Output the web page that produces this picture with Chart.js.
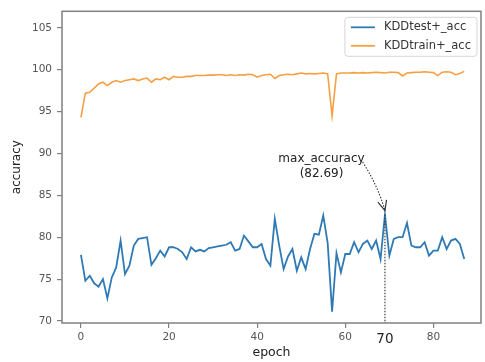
<!DOCTYPE html>
<html>
<head>
<meta charset="utf-8">
<script src="https://cdn.jsdelivr.net/npm/chart.js@4.4.1/dist/chart.umd.min.js"></script>
<style>
  html, body { margin: 0; padding: 0; background: #fff; }
  canvas { display: block; }
</style>
</head>
<body>
<canvas id="chart" width="485" height="362"></canvas>
<script>
const epochs = [
   0,  1,  2,  3,  4,  5,  6,  7,  8,  9, 10, 11, 12, 13, 14, 15, 16, 17, 18, 19,
  20, 21, 22, 23, 24, 25, 26, 27, 28, 29, 30, 31, 32, 33, 34, 35, 36, 37, 38, 39,
  40, 41, 42, 43, 44, 45, 46, 47, 48, 49, 50, 51, 52, 53, 54, 55, 56, 57, 58, 59,
  60, 61, 62, 63, 64, 65, 66, 67, 68, 69, 70, 71, 72, 73, 74, 75, 76, 77, 78, 79,
  80, 81, 82, 83, 84, 85, 86, 87
];

const testAcc = [
  77.9, 74.8, 75.4, 74.5, 74.1, 75.0, 72.7, 75.2, 76.4, 79.6,
  75.6, 76.6, 79.0, 79.8, 79.9, 80.0, 76.7, 77.5, 78.4, 77.7,
  78.8, 78.8, 78.6, 78.2, 77.4, 78.8, 78.3, 78.5, 78.3, 78.7,
  78.8, 78.9, 79.0, 79.1, 79.4, 78.4, 78.6, 80.2, 79.5, 78.8,
  78.8, 79.2, 77.4, 76.6, 82.2, 79.0, 76.2, 77.7, 78.6, 76.0,
  77.6, 76.2, 78.6, 80.4, 80.3, 82.6, 79.3, 71.1, 78.1, 75.8,
  78.0, 78.0, 79.4, 78.2, 79.2, 79.6, 78.6, 79.6, 77.4, 82.69,
  77.8, 79.8, 80.0, 80.0, 81.7, 79.0, 78.8, 78.8, 79.4, 77.8,
  78.4, 78.4, 80.0, 78.6, 79.6, 79.8, 79.2, 77.4
];

const trainAcc = [
  94.3, 97.2, 97.3, 97.8, 98.3, 98.5, 98.1, 98.5, 98.7, 98.5,
  98.7, 98.8, 98.9, 98.7, 98.9, 99.0, 98.5, 98.9, 98.8, 99.1,
  98.8, 99.2, 99.1, 99.1, 99.2, 99.2, 99.3, 99.3, 99.3, 99.35,
  99.35, 99.4, 99.4, 99.3, 99.4, 99.3, 99.4, 99.35, 99.45, 99.4,
  99.1, 99.3, 99.4, 99.45, 98.95, 99.3, 99.4, 99.45, 99.4, 99.5,
  99.6, 99.5, 99.55, 99.5, 99.55, 99.6, 99.5, 94.5, 99.5, 99.6,
  99.6, 99.6, 99.65, 99.6, 99.65, 99.6, 99.65, 99.7, 99.65, 99.6,
  99.7, 99.7, 99.65, 99.25, 99.6, 99.65, 99.7, 99.7, 99.75, 99.7,
  99.65, 99.3, 99.7, 99.75, 99.7, 99.4, 99.55, 99.8
];

const seriesNames = ['KDDtest+_acc', 'KDDtrain+_acc'];
const xTickVals = [0, 20, 40, 60, 80];
const yTickVals = [70, 75, 80, 85, 90, 95, 100, 105];
const peakTickLabel = '70';
const annoTitle = 'max_accuracy';

// where the max sits
const peakVal = Math.max(...testAcc);
const peakEpoch = epochs[testAcc.indexOf(peakVal)];

const FONT = 'DejaVu Sans';
const TICK_GRAY = '#555';
const FRAME = '#808080';

// frame + annotation + legend box, drawn on top like matplotlib
const overlayPlugin = {
  id: 'overlay',
  afterDraw(chart) {
    const { ctx, chartArea: ca, scales: { x, y } } = chart;
    ctx.save();

    // spines
    ctx.strokeStyle = FRAME;
    ctx.lineWidth = 1.5;
    ctx.strokeRect(ca.left, ca.top, ca.right - ca.left, ca.bottom - ca.top);

    // annotation
    const px = x.getPixelForValue(peakEpoch);
    const py = y.getPixelForValue(peakVal);
    ctx.strokeStyle = '#333';
    ctx.lineWidth = 1.1;
    ctx.setLineDash([1.5, 1.5]);
    ctx.beginPath();
    ctx.moveTo(px, py);
    ctx.lineTo(px, ca.bottom);
    ctx.stroke();

    const tx = x.getPixelForValue(54.6);
    const ty = y.getPixelForValue(88.5);
    ctx.font = '12px ' + FONT;
    ctx.fillStyle = '#222';
    ctx.textAlign = 'center';
    ctx.textBaseline = 'middle';
    ctx.fillText(annoTitle, tx, ty - 7.5);
    ctx.fillText('(' + peakVal.toFixed(2) + ')', tx, ty + 7.5);

    const w1 = ctx.measureText(annoTitle).width;
    const sx = tx + w1 / 2 - 2, sy = ty - 4;
    const ex = px, ey = py - 4;
    ctx.beginPath();
    ctx.moveTo(sx, sy);
    ctx.quadraticCurveTo((sx + ex) / 2 + 4, (sy + ey) / 2 - 1, ex, ey);
    ctx.stroke();

    // open arrow head
    ctx.setLineDash([]);
    ctx.lineWidth = 1.2;
    const ang = Math.atan2(ey - ((sy + ey) / 2 - 1), ex - ((sx + ex) / 2 + 4));
    const hl = 11;
    ctx.beginPath();
    ctx.moveTo(ex - hl * Math.cos(ang - 0.42), ey - hl * Math.sin(ang - 0.42));
    ctx.lineTo(ex, ey);
    ctx.lineTo(ex - hl * Math.cos(ang + 0.42), ey - hl * Math.sin(ang + 0.42));
    ctx.stroke();

    // legend
    ctx.font = '11.5px ' + FONT;
    const ds = chart.data.datasets;
    const tw = Math.max(...ds.map(d => ctx.measureText(d.label).width));
    const bw = 6 + 24 + 9 + tw + 6;
    const bh = 39;
    const bx = ca.right - 4 - bw, by = ca.top + 6;
    ctx.fillStyle = 'rgba(255,255,255,0.85)';
    ctx.strokeStyle = '#d6d6d6';
    ctx.lineWidth = 1;
    ctx.beginPath();
    ctx.roundRect(bx, by, bw, bh, 3);
    ctx.fill();
    ctx.stroke();
    ctx.textAlign = 'left';
    ds.forEach((d, i) => {
      const ly = by + 10 + i * 18.5;
      ctx.strokeStyle = d.borderColor;
      ctx.lineWidth = 1.8;
      ctx.beginPath();
      ctx.moveTo(bx + 6, ly);
      ctx.lineTo(bx + 30, ly);
      ctx.stroke();
      ctx.fillStyle = '#333';
      ctx.fillText(d.label, bx + 39, ly);
    });

    ctx.restore();
  }
};

new Chart(document.getElementById('chart'), {
  type: 'line',
  data: {
    labels: epochs,
    datasets: [
      {
        label: seriesNames[0],
        data: testAcc,
        borderColor: '#2f7ab5',
        backgroundColor: '#2f7ab5',
        borderWidth: 1.8,
        pointRadius: 0,
        tension: 0,
        fill: false
      },
      {
        label: seriesNames[1],
        data: trainAcc,
        borderColor: '#f5a042',
        backgroundColor: '#f5a042',
        borderWidth: 1.6,
        pointRadius: 0,
        tension: 0,
        fill: false
      }
    ]
  },
  options: {
    responsive: false,
    animation: false,
    layout: { padding: { top: 8, right: 4, left: 0, bottom: 0 } },
    plugins: {
      legend: { display: false },
      tooltip: { enabled: false }
    },
    scales: {
      x: {
        type: 'linear',
        min: -4.3,
        max: 90.8,
        afterBuildTicks: s => {
          s.ticks = [...xTickVals, peakEpoch].sort((a, b) => a - b).map(v => ({ value: v }));
        },
        afterFit: s => { s.height = 39; },
        border: { display: false },
        grid: {
          drawOnChartArea: false,
          tickLength: 5,
          tickColor: c => (c.tick && c.tick.value === peakEpoch) ? 'rgba(0,0,0,0)' : FRAME,
          lineWidth: 1.2
        },
        ticks: {
          autoSkip: false,
          maxRotation: 0,
          padding: 3,
          callback: v => v === peakEpoch ? peakTickLabel : xTickVals.includes(v) ? String(v) : '',
          font: c => (c.tick && c.tick.value === peakEpoch) ? { family: FONT, size: 13.5 } : { family: FONT, size: 10.5 },
          color: c => (c.tick && c.tick.value === peakEpoch) ? '#222' : TICK_GRAY
        },
        title: {
          display: true,
          text: 'epoch',
          color: '#222',
          font: { family: FONT, size: 12.5 },
          padding: { top: 0, bottom: 1.5 }
        }
      },
      y: {
        min: 69.76,
        max: 106.97,
        afterBuildTicks: s => { s.ticks = yTickVals.map(v => ({ value: v })); },
        afterFit: s => { s.width = 62; },
        border: { display: false },
        grid: {
          drawOnChartArea: false,
          tickLength: 5,
          tickColor: FRAME,
          lineWidth: 1.2
        },
        ticks: {
          padding: 5,
          color: TICK_GRAY,
          font: { family: FONT, size: 10.5 }
        },
        title: {
          display: true,
          text: 'accuracy',
          color: '#222',
          font: { family: FONT, size: 12 },
          padding: { top: 10, bottom: 0 }
        }
      }
    }
  },
  plugins: [overlayPlugin]
});
</script>
</body>
</html>
